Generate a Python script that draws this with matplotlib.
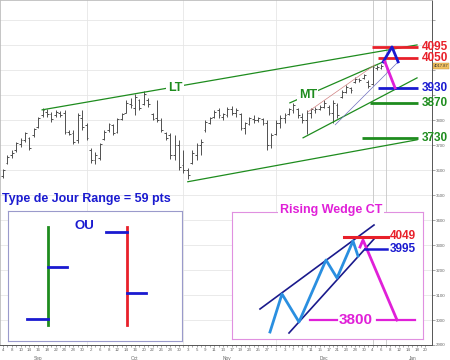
import matplotlib
matplotlib.use('Agg')
import matplotlib.pyplot as plt
import numpy as np
import pandas as pd

plt.rcParams['font.family'] = ['Liberation Sans', 'DejaVu Sans']

# ---------------- data ----------------
holidays = ['2009-12-25', '2010-01-01']
days = pd.bdate_range('2009-09-04', '2010-01-20')
days = days[~days.isin(pd.to_datetime(holidays))]

lows = [3570, 3625, 3650, 3675, 3695, 3715, 3680, 3735, 3770, 3815,
        3815, 3795, 3815, 3812, 3745, 3740, 3705, 3710, 3760, 3720,
        3630, 3625, 3640, 3720, 3755, 3740, 3750, 3800, 3828, 3850,
        3820, 3840, 3860, 3855, 3800, 3795, 3755, 3720, 3645, 3640,
        3600, 3590, 3565, 3625, 3640, 3660, 3755, 3785, 3808, 3810,
        3800, 3815, 3820, 3815, 3760, 3745, 3780, 3790, 3795, 3780,
        3680, 3690, 3740, 3770, 3790, 3820, 3830, 3810, 3790, 3746,
        3810, 3830, 3840, 3850, 3820, 3790, 3810, 3890, 3910, 3910,
        3950, 3955, 3965, 3930, 3940, 4000, 4005]
highs = [3605, 3660, 3680, 3715, 3728, 3755, 3735, 3770, 3815, 3848,
         3845, 3835, 3842, 3838, 3840, 3760, 3760, 3830, 3840, 3790,
         3690, 3675, 3710, 3760, 3790, 3785, 3810, 3830, 3880, 3890,
         3905, 3885, 3918, 3890, 3830, 3880, 3810, 3755, 3750, 3740,
         3720, 3680, 3610, 3680, 3710, 3725, 3800, 3815, 3840, 3850,
         3830, 3855, 3858, 3850, 3830, 3795, 3815, 3822, 3812, 3810,
         3800, 3750, 3800, 3820, 3830, 3850, 3870, 3850, 3830, 3840,
         3850, 3852, 3862, 3880, 3860, 3880, 3870, 3922, 3940, 3935,
         3972, 3970, 3985, 3962, 4020, 4022, 4025]
opens = [3575, 3630, 3660, 3680, 3705, 3720, 3730, 3740, 3775, 3820,
         3835, 3825, 3820, 3830, 3830, 3755, 3750, 3720, 3810, 3780,
         3680, 3640, 3650, 3725, 3760, 3780, 3755, 3805, 3830, 3865,
         3850, 3880, 3865, 3880, 3825, 3810, 3800, 3750, 3740, 3660,
         3700, 3620, 3600, 3630, 3660, 3700, 3760, 3790, 3815, 3840,
         3815, 3820, 3845, 3830, 3825, 3770, 3785, 3805, 3800, 3805,
         3790, 3700, 3745, 3790, 3810, 3825, 3840, 3845, 3815, 3800,
         3830, 3840, 3845, 3855, 3855, 3830, 3860, 3895, 3915, 3930,
         3955, 3965, 3968, 3955, 3945, 4010, 4010]
closes = [3600, 3655, 3670, 3710, 3720, 3750, 3690, 3765, 3810, 3840,
          3825, 3805, 3835, 3820, 3755, 3745, 3715, 3820, 3775, 3730,
          3640, 3660, 3705, 3755, 3785, 3750, 3805, 3825, 3870, 3860,
          3895, 3850, 3905, 3865, 3805, 3800, 3760, 3730, 3660, 3700,
          3615, 3600, 3580, 3670, 3700, 3715, 3795, 3810, 3835, 3820,
          3825, 3845, 3830, 3840, 3770, 3790, 3810, 3800, 3808, 3790,
          3700, 3740, 3790, 3810, 3820, 3845, 3860, 3820, 3800, 3830,
          3845, 3845, 3855, 3870, 3830, 3870, 3820, 3915, 3935, 3920,
          3965, 3960, 3980, 3936, 4014, 4013, 4018]
last_price = '4017.87'
price_ticks = list(range(2900, 4300, 100))
hidden_tick_labels = [3900, 4000, 4100, 4200]

# trend lines (trading-day index, price)
lt_upper = ([8.9, 94.1], [3842, 4102])
lt_lower = ([42.0, 94.1], [3554, 3722])
mt_upper = ([65.2, 86.4], [3870, 4034])
mt_lower = ([68.2, 94.1], [3730, 3970])
thin_red = ([69.3, 84.5], [3834, 4022])
thin_blue = ([75.5, 89.8], [3782, 4034])
lt_label = (39.1, 3930)
mt_label = (69.3, 3902)

levels = [4095, 4050, 3930, 3870, 3730]
level_colors = ['#e8202a', '#e8202a', '#1a1ad0', '#1e8c1e', '#1e8c1e']
level_start = [83.9, 85.2, 85.2, 83.4, 81.6]
level_end = 94.3
lambda_x = [86.4, 88.4, 89.8]
lambda_y = [4034, 4094, 4034]
drop_x = [86.8, 89.1]
drop_y = [4034, 3930]

# left box: schematic day-type bars (box units 0-100)
ou_x = [23, 68.4]
ou_low = [12, 12]
ou_high = [88, 88]
ou_open = [17, 84]
ou_close = [57, 37]
ou_colors = ['#1e8c1e', '#e8202a']

# right box: rising wedge schematic (box units)
wedge_up = ([28, 142], [30, 114])
wedge_lo = ([57, 142], [6, 100])
zig_x = [38, 50, 67, 94, 105, 121, 126]
zig_y = [7, 45, 17, 79, 61, 98, 83]
ct_x = [128, 131, 165]
ct_y = [92, 99, 19]

# ---------------- figure ----------------
BLUE = '#1a1ad0'
RED = '#e8202a'
GREEN = '#1e8c1e'
MAG = '#e020d8'

fig = plt.figure(figsize=(4.5, 3.6), dpi=100)
ax = fig.add_axes([0.0, 15 / 360, 432 / 450, 345 / 360])
ax.set_facecolor('white')
n = len(highs)
idx = np.arange(n)

ax.set_xlim(-0.68, 97.5)
ax.set_ylim(2902, 4282)

# grid
for p in range(3000, 4300, 100):
    ax.axhline(p, color='#e6e6e6', lw=0.6, zorder=0)
month_starts = [i for i in range(1, len(days)) if days[i].month != days[i - 1].month]
for m in month_starts:
    ax.axvline(m, color='#e6e6e6', lw=0.6, zorder=0)
for m in [84, 87]:
    ax.axvline(m, color='#c8c8c8', lw=0.6, zorder=0)

# OHLC bars
ax.vlines(idx, lows, highs, color='#505050', lw=0.7, zorder=2)
ax.hlines(opens, idx - 0.4, idx, color='#505050', lw=0.7, zorder=2)
ax.hlines(closes, idx, idx + 0.4, color='#505050', lw=0.7, zorder=2)

# trend lines
for ln in [lt_upper, lt_lower, mt_upper, mt_lower]:
    ax.plot(ln[0], ln[1], color=GREEN, lw=0.9, zorder=3)
ax.plot(thin_red[0], thin_red[1], color='#d08080', lw=0.5, zorder=3)
ax.plot(thin_blue[0], thin_blue[1], color='#7070c0', lw=0.5, zorder=3)
ax.text(*lt_label, 'LT', color=GREEN, fontsize=9, fontweight='bold', ha='center', va='center',
        bbox=dict(facecolor='white', edgecolor='none', pad=1), zorder=4)
ax.text(*mt_label, 'MT', color=GREEN, fontsize=9, fontweight='bold', ha='center', va='center',
        bbox=dict(facecolor='white', edgecolor='none', pad=1), zorder=4)

for lv, c, s in zip(levels, level_colors, level_start):
    ax.plot([s, level_end], [lv, lv], color=c, lw=2, zorder=5, solid_capstyle='butt')
    ax.text(95.1, lv, str(lv), color=c, fontsize=8.5, fontweight='bold', ha='left', va='center',
            zorder=6, clip_on=False)
ax.plot(lambda_x, lambda_y, color=BLUE, lw=2, zorder=6)
ax.plot(drop_x, drop_y, color=MAG, lw=2, zorder=6)

# axes formatting
ax.yaxis.tick_right()
ax.set_yticks(price_ticks)
ax.set_yticklabels(['' if v in hidden_tick_labels else str(v) for v in price_ticks],
                   fontsize=3.2, color='#666666')
ax.tick_params(axis='y', length=2, width=0.4, pad=1, colors='#666666')
ax.set_xticks(list(range(len(days))), minor=True)
ax.set_xticks(range(0, len(days), 2))
ax.set_xticklabels([str(days[i].day) for i in range(0, len(days), 2)], fontsize=3.2, color='#666666')
ax.tick_params(axis='x', which='both', length=1.5, width=0.4, pad=1, colors='#666666')
for sp in ['left', 'top']:
    ax.spines[sp].set_color('#bbbbbb')
    ax.spines[sp].set_linewidth(0.6)
for sp in ['right', 'bottom']:
    ax.spines[sp].set_color('#555555')
    ax.spines[sp].set_linewidth(0.7)

month_mid = {'Sep': 8, 'Oct': 30, 'Nov': 51, 'Dec': 73, 'Jan': 93}
for name, i in month_mid.items():
    ax.text(i, -0.04, name, transform=ax.get_xaxis_transform(), fontsize=3.4, color='#666666',
            ha='center', va='center', clip_on=False)

ax.text(1.004, (4017.87 - 2902) / (4282 - 2902), last_price, transform=ax.transAxes, fontsize=3,
        color='#333333', ha='left', va='center',
        bbox=dict(facecolor='#f0c060', edgecolor='#c09030', pad=0.6, lw=0.3), zorder=7)

fig.text(2 / 450, 1 - 199 / 360, 'Type de Jour Range = 59 pts', color=BLUE, fontsize=9,
         fontweight='bold', ha='left', va='center')

# left box
axl = fig.add_axes([8 / 450, 19 / 360, 174 / 450, 130 / 360])
axl.set_xlim(0, 100)
axl.set_ylim(0, 100)
axl.set_xticks([])
axl.set_yticks([])
for sp in axl.spines.values():
    sp.set_color('#9a9acb')
    sp.set_linewidth(0.8)
for x, lo, hi, op, cl, c in zip(ou_x, ou_low, ou_high, ou_open, ou_close, ou_colors):
    axl.plot([x, x], [lo, hi], color=c, lw=2)
    axl.plot([x - 12, x], [op, op], color=BLUE, lw=2)
    axl.plot([x, x + 11], [cl, cl], color=BLUE, lw=2)
axl.text(43.7, 88.5, 'OU', color=BLUE, fontsize=9.5, fontweight='bold', ha='center', va='center')

# right box
axr = fig.add_axes([232 / 450, 21 / 360, 191 / 450, 127 / 360])
axr.set_xlim(0, 191)
axr.set_ylim(0, 127)
axr.set_xticks([])
axr.set_yticks([])
for sp in axr.spines.values():
    sp.set_color('#e090e0')
    sp.set_linewidth(0.8)
axr.plot(wedge_up[0], wedge_up[1], color='#1a1a8c', lw=1.2)
axr.plot(wedge_lo[0], wedge_lo[1], color='#1a1a8c', lw=1.2)
axr.plot(zig_x, zig_y, color='#2a8fe0', lw=2)
axr.plot(ct_x, ct_y, color=MAG, lw=2)
axr.plot([112, 156], [102, 102], color=RED, lw=2.2)
axr.plot([133, 155], [90, 90], color=BLUE, lw=1.8)
axr.plot([78, 105], [19, 19], color=MAG, lw=1.6)
axr.plot([145, 183], [19, 19], color=MAG, lw=1.6)
axr.text(124, 19, '3800', color=MAG, fontsize=11, fontweight='bold', ha='center', va='center')
axr.text(158, 103, '4049', color=RED, fontsize=8.5, fontweight='bold', ha='left', va='center')
axr.text(158, 90, '3995', color=BLUE, fontsize=8.5, fontweight='bold', ha='left', va='center')
axr.text(99, 129, 'Rising Wedge CT', color=MAG, fontsize=9, fontweight='bold', ha='center',
         va='center', clip_on=False, bbox=dict(facecolor='white', edgecolor='none', pad=1))

fig.savefig('out.png', dpi=100)
